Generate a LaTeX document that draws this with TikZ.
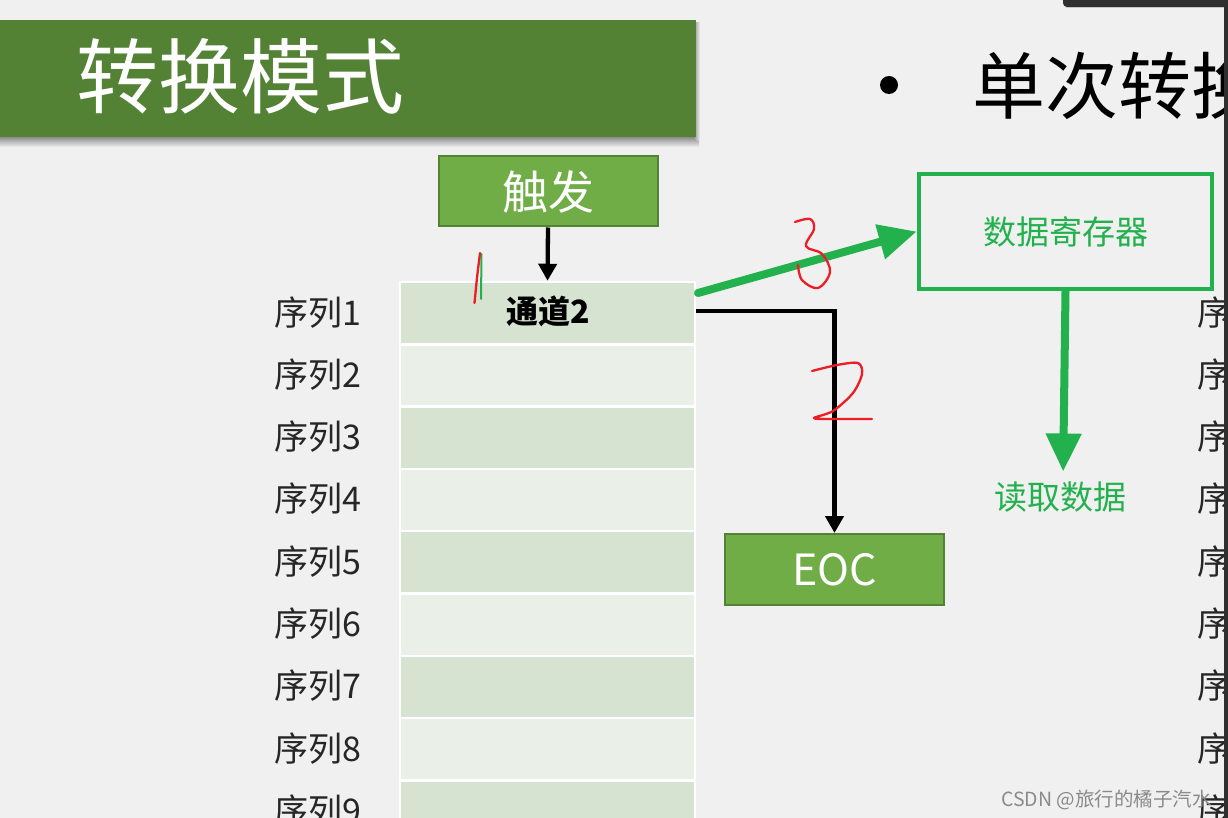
\documentclass[tikz,border=0pt]{standalone}
\usepackage{fontspec}
\setmainfont{Noto Sans CJK SC}
\usetikzlibrary{arrows.meta}
\definecolor{bg}{HTML}{F0F0F0}
\definecolor{titlegreen}{HTML}{548235}
\definecolor{boxgreen}{HTML}{70AD47}
\definecolor{boxborder}{HTML}{548235}
\definecolor{celldark}{HTML}{D6E3D0}
\definecolor{celllight}{HTML}{EAEFE8}
\definecolor{paintgreen}{HTML}{22B14C}
\definecolor{paintred}{HTML}{EE1C25}
\definecolor{labelgray}{HTML}{262626}
\definecolor{wmgray}{HTML}{8A8A8A}
\definecolor{topbar}{HTML}{2F2F2F}
\tikzset{
  greenbox/.style={draw=boxborder, line width=2pt, fill=boxgreen, text=white, inner sep=0pt},
  cellbox/.style={draw=white, line width=2.5pt, minimum width=295pt, minimum height=62.3pt, inner sep=0pt},
  rowlabel/.style={text=labelgray, anchor=west, inner sep=0pt, font=\fontsize{34}{40}\selectfont},
  blackarrow/.style={line width=4.3pt, -{Triangle[length=17pt,width=18pt]}},
  greenarrow/.style={draw=paintgreen, line width=8pt, line cap=round, -{Triangle[length=38pt,width=34pt]}},
  handwrite/.style={draw=paintred, line width=2.3pt, line cap=round, line join=round},
}
\begin{document}
\begin{tikzpicture}[x=1pt,y=-1pt]
\useasboundingbox (0,0) rectangle (1228,818);
\clip (0,0) rectangle (1228,818);
\fill[bg] (0,0) rectangle (1228,818);

% title bar with soft shadow
\shade[top color=black!45, bottom color=bg] (0,137) rectangle (699,147);
\shade[left color=black!35, right color=bg] (695,23) rectangle (700,141);
\node[fill=titlegreen, minimum width=697pt, minimum height=117pt, inner sep=0pt] (tb) at (347.5,78.5) {};
\node[text=white, inner sep=0pt, font=\fontsize{82}{90}\selectfont] (tt) at (240,76) {转换模式};

% bullet heading (clipped at right)
\begin{scope}
\clip (860,20) rectangle (1223,150);
\fill[black] (889,85) circle (9);
\node[anchor=west, inner sep=0pt, font=\fontsize{73}{80}\selectfont] (hd) at (972,86) {单次转换};
\end{scope}

% trigger box
\node[greenbox, minimum width=219pt, minimum height=70pt, font=\fontsize{46}{52}\selectfont] (trig) at (548,191.5) {触发};

% table cells
\foreach \i in {1,...,9} {
  \pgfmathsetmacro{\yc}{282+62.3*(\i-0.5)}
  \ifodd\i
    \node[cellbox, fill=celldark] (r\i) at (547.5,\yc) {};
  \else
    \node[cellbox, fill=celllight] (r\i) at (547.5,\yc) {};
  \fi
  \node[rowlabel] (L\i) at (274,\yc-1) {序列\i};
}
\node[inner sep=0pt, font=\bfseries\fontsize{32}{38}\selectfont] (ch2) at (548,311) {通道2};

% right clipped labels
\begin{scope}
\clip (1150,290) rectangle (1223,818);
\foreach \i in {1,...,9} {
  \pgfmathsetmacro{\yc}{282+62.3*(\i-0.5)}
  \node[rowlabel] (R\i) at (1197,\yc-1) {序列\i};
}
\end{scope}

% EOC box
\node[greenbox, minimum width=219pt, minimum height=71pt, font=\fontsize{43}{48}\selectfont] (eoc) at (834.5,569.5) {EOC};

% data register
\node[draw=paintgreen, line width=4.5pt, minimum width=293pt, minimum height=115pt, inner sep=0pt,
      text=paintgreen, font=\fontsize{33}{38}\selectfont] (reg) at (1065.5,231.5) {数据寄存器};
\node[text=paintgreen, inner sep=0pt, font=\fontsize{33}{38}\selectfont] (rd) at (1060,497) {读取数据};

% connectors
\draw[blackarrow] (trig.south) -- (r1.north);
\draw[blackarrow, line join=miter] ([yshift=2pt]r1.east) -| (eoc.north);
\coordinate (g1) at (698,293);
\draw[greenarrow] (g1) -- (reg.west);
\draw[greenarrow, shorten >=10pt] (reg.south) -- ([xshift=3pt]rd.north);

% handwritten marks
\draw[draw=paintgreen, line width=2pt, line cap=round] (481.5,254) -- (481,299);
\draw[handwrite] plot[smooth, tension=0.5] coordinates {(480,253) (477,278) (474.5,303)};
\draw[handwrite] plot[smooth, tension=0.6] coordinates {(795,222) (810,219) (814,229) (806,246) (822,254) (830,272) (818,288) (802,280) (798,265)};
\draw[handwrite] plot[smooth, tension=0.5] coordinates {(812,371) (837,365) (858,363) (862,374) (853,393) (833,411) (814,418) (830,419) (872,419)};

% watermark
\node[text=wmgray, anchor=west, inner sep=0pt, font=\fontsize{19.5}{22}\selectfont] (wm) at (1001,800) {CSDN @旅行的橘子汽水};

% window edges
\fill[topbar, rounded corners=4pt] (1063,-6) rectangle (1232,7);
\draw[gray!45, line width=1pt] (1066,7.5) -- (1228,7.5);
\fill[topbar] (1223.5,7) rectangle (1228,818);
\end{tikzpicture}
\end{document}
